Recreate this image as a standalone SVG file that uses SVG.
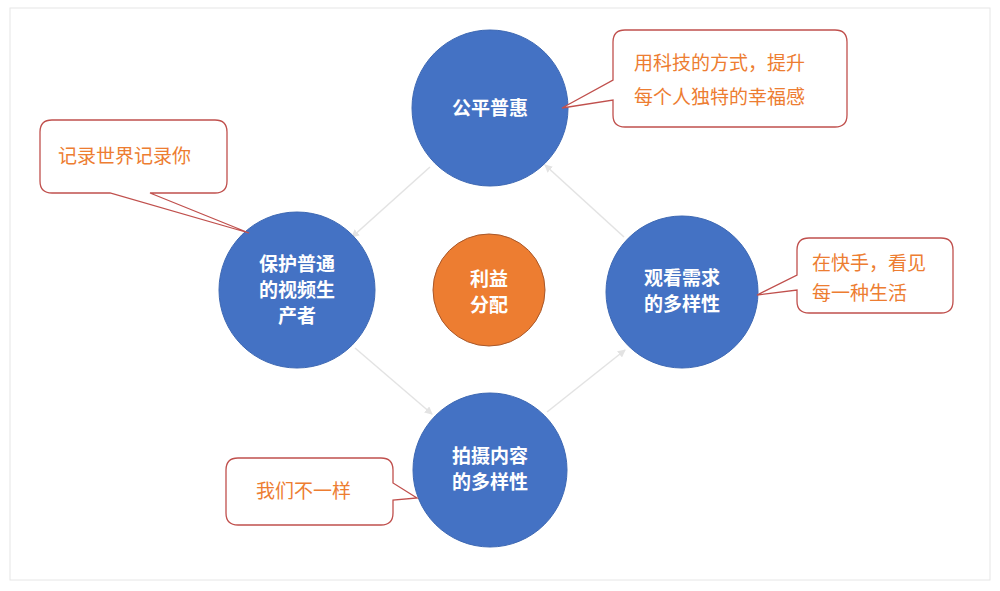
<svg xmlns="http://www.w3.org/2000/svg" width="1000" height="591" viewBox="0 0 1000 591">
<defs>
<style>
.n{fill:#4472c4;stroke:#3d68b3;stroke-width:1}
.t{font-family:"Noto Sans CJK SC",sans-serif;font-weight:bold;fill:#fff;font-size:19px;text-anchor:middle}
.c{fill:#fff;stroke:#c0504d;stroke-width:1.3}
.ct{font-family:"Noto Sans CJK SC",sans-serif;fill:#ed7d31;font-size:19px}
.e{stroke:#e3e3e3;stroke-width:1.5;fill:none;marker-end:url(#a)}
</style>
<marker id="a" markerWidth="8" markerHeight="8" refX="7" refY="4" orient="auto" markerUnits="userSpaceOnUse"><path d="M0,0L8,4L0,8z" fill="#e3e3e3"/></marker>
</defs>
<rect width="1000" height="591" fill="#fff"/>
<rect x="10" y="8" width="980" height="572" fill="none" stroke="#e6e6e6"/>
<g id="edges">
<line class="e" x1="430" y1="167" x2="352" y2="237"/>
<line class="e" x1="355" y1="348" x2="432" y2="414"/>
<line class="e" x1="547" y1="412" x2="625" y2="350"/>
<line class="e" x1="624" y1="237" x2="545" y2="165"/>
</g>
<g id="top"><circle class="n" cx="490" cy="108" r="78"/><text class="t" x="490" y="115">公平普惠</text></g>
<g id="left"><circle class="n" cx="297" cy="290" r="78"/><text class="t" x="297" y="271">保护普通</text><text class="t" x="297" y="297">的视频生</text><text class="t" x="297" y="323">产者</text></g>
<g id="right"><circle class="n" cx="682" cy="292" r="76"/><text class="t" x="682" y="285">观看需求</text><text class="t" x="682" y="311">的多样性</text></g>
<g id="bottom"><circle class="n" cx="490" cy="470" r="77"/><text class="t" x="490" y="463">拍摄内容</text><text class="t" x="490" y="489">的多样性</text></g>
<g id="center"><circle cx="489" cy="290" r="56" fill="#ed7d31" stroke="#a9582a" stroke-width="1"/><text class="t" x="489" y="286">利益</text><text class="t" x="489" y="312">分配</text></g>
<g id="c1"><path class="c" d="M625,30H835Q847,30 847,42V115Q847,127 835,127H625Q613,127 613,115V100L562,108L613,80V42Q613,30 625,30Z"/><text class="ct" x="634" y="70">用科技的方式，提升</text><text class="ct" x="634" y="104">每个人独特的幸福感</text></g>
<g id="c2"><path class="c" d="M52,120H215Q227,120 227,132V181Q227,193 215,193H150L249,233L110,193H52Q40,193 40,181V132Q40,120 52,120Z"/><text class="ct" x="58" y="163">记录世界记录你</text></g>
<g id="c3"><path class="c" d="M809,238H941Q953,238 953,250V301Q953,313 941,313H809Q797,313 797,301V290L757,295L797,275V250Q797,238 809,238Z"/><text class="ct" x="812" y="270">在快手，看见</text><text class="ct" x="812" y="300">每一种生活</text></g>
<g id="c4"><path class="c" d="M238,458H381Q393,458 393,470V483L417,498L393,500V513Q393,525 381,525H238Q226,525 226,513V470Q226,458 238,458Z"/><text class="ct" x="256" y="498">我们不一样</text></g>
</svg>
